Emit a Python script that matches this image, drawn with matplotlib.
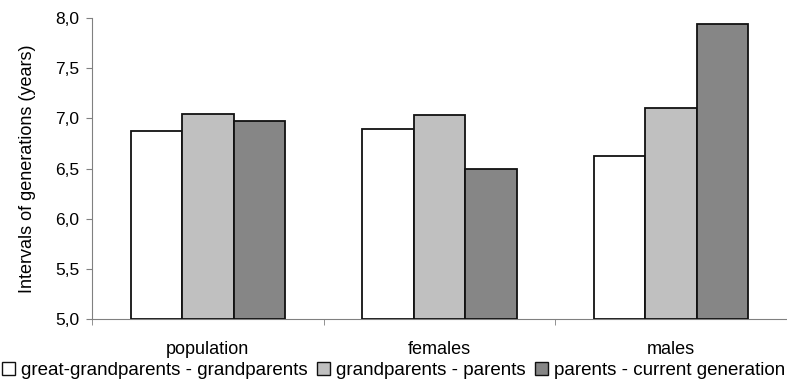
import matplotlib.pyplot as plt
import numpy as np
from matplotlib.patches import Patch

plt.rcParams['font.family'] = ['Liberation Sans', 'DejaVu Sans']

groups = ['population', 'females', 'males']
series = ['great-grandparents - grandparents', 'grandparents - parents', 'parents - current generation']
ggp_gp = [6.87, 6.89, 6.62]
gp_p = [7.04, 7.03, 7.10]
p_cur = [6.97, 6.50, 7.94]
colors = ['#ffffff', '#c0c0c0', '#868686']

fig = plt.figure(figsize=(7.87, 3.83), dpi=100)
ax = fig.add_axes([0.117, 0.167, 0.883, 0.786])

x = np.arange(len(groups))
w = 0.222
for i, (vals, c) in enumerate(zip([ggp_gp, gp_p, p_cur], colors)):
    ax.bar(x + (i - 1) * w, np.array(vals) - 5.0, w, bottom=5.0, color=c,
           edgecolor='#111111', linewidth=1.3, zorder=3)

ax.set_xlim(-0.5, 2.5)
ax.set_ylim(5.0, 8.0)
ax.set_yticks(np.arange(5.0, 8.01, 0.5))
ax.set_yticklabels([f'{v:.1f}'.replace('.', ',') for v in np.arange(5.0, 8.01, 0.5)], fontsize=12.5)
ax.set_xticks(x)
ax.set_xticklabels(groups, fontsize=13)
ax.set_xticks([-0.5, 0.5, 1.5, 2.5], minor=True)
ax.tick_params(axis='x', which='major', length=0, pad=16)
ax.tick_params(axis='x', which='minor', length=4, color='#808080')
ax.tick_params(axis='y', length=4, color='#808080', pad=5)
ax.set_ylabel('Intervals of generations (years)', fontsize=13, labelpad=14)
for s in ['top', 'right']:
    ax.spines[s].set_visible(False)
ax.spines['left'].set_color('#808080')
ax.spines['bottom'].set_color('#808080')

handles = [Patch(facecolor=c, edgecolor='#111111', linewidth=1.0) for c in colors]
fig.legend(handles, series, loc='lower center', bbox_to_anchor=(0.5, -0.015), ncol=3,
           frameon=False, fontsize=13.5, handlelength=0.7, handleheight=0.7,
           handletextpad=0.3, columnspacing=0.5, borderaxespad=0.1)

plt.savefig('out.png')
